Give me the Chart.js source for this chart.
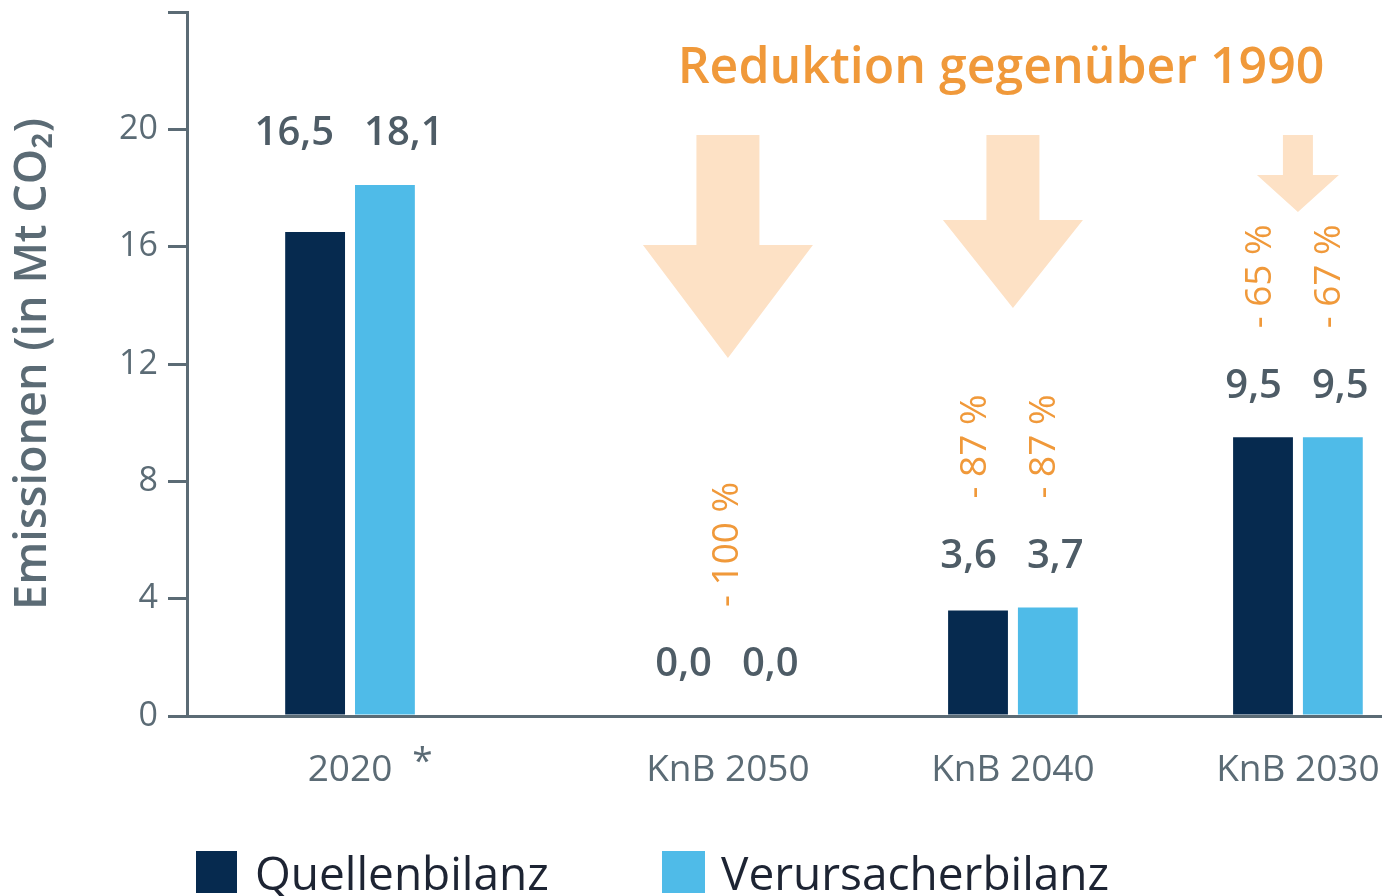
<!DOCTYPE html>
<html lang="de">
<head>
<meta charset="utf-8">
<title>Emissionen</title>
<script src="https://cdn.jsdelivr.net/npm/chart.js@4.4.1/dist/chart.umd.min.js"></script>
<style>
  html, body { margin: 0; padding: 0; background: #fff; }
  #wrap { width: 1382px; height: 896px; }
</style>
</head>
<body>
<div id="wrap"><canvas id="emissionChart"></canvas></div>
<script>
// Daten
const categories = ['2020', 'KnB 2050', 'KnB 2040', 'KnB 2030'];
const footnotes = ['*', '', '', ''];
const quellenbilanz = [16.5, 0.0, 3.6, 9.5];
const verursacherbilanz = [18.1, 0.0, 3.7, 9.5];
const reduktionQuellen = [null, -100, -87, -65];
const reduktionVerursacher = [null, -100, -87, -67];

// Farben
const darkBlue = '#062a4f';
const lightBlue = '#4fbbe8';
const orange = '#f0993a';
const arrowColor = '#fde1c5';
const axisColor = '#5b6b75';
const FONT = '"Open Sans", "Noto Sans", sans-serif';

// 2020 steht etwas weiter links (Lücke nach der ersten Gruppe)
const firstGap = 0.326;
const xPos = categories.map((c, i) => i + (i > 0 ? firstGap : 0));

// Pfeilformen (px) je Kategorie
const arrowShapes = [
    null,
    { shaftW: 63, shaftH: 110, headW: 170, headH: 113 },
    { shaftW: 53, shaftH: 85, headW: 140, headH: 88 },
    { shaftW: 30, shaftH: 40, headW: 82, headH: 37 }
];

const fmt = v => v.toFixed(1).replace('.', ',');
const fmtPct = v => '- ' + Math.abs(v) + ' %';

const annotations = {
    id: 'annotations',
    afterDatasetsDraw(chart) {
        const { ctx, scales: { x } } = chart;
        const m0 = chart.getDatasetMeta(0).data;
        const m1 = chart.getDatasetMeta(1).data;
        ctx.save();

        // Pfeile
        ctx.fillStyle = arrowColor;
        categories.forEach((c, i) => {
            const a = arrowShapes[i];
            if (!a) return;
            const cx = x.getPixelForValue(xPos[i]);
            const top = 135;
            ctx.beginPath();
            ctx.moveTo(cx - a.shaftW / 2, top);
            ctx.lineTo(cx + a.shaftW / 2, top);
            ctx.lineTo(cx + a.shaftW / 2, top + a.shaftH);
            ctx.lineTo(cx + a.headW / 2, top + a.shaftH);
            ctx.lineTo(cx, top + a.shaftH + a.headH);
            ctx.lineTo(cx - a.headW / 2, top + a.shaftH);
            ctx.lineTo(cx - a.shaftW / 2, top + a.shaftH);
            ctx.closePath();
            ctx.fill();
        });

        categories.forEach((c, i) => {
            const cx = x.getPixelForValue(xPos[i]);
            const labelY = Math.min(m0[i].y, m1[i].y) - 51;

            // Werte
            ctx.font = '600 40px ' + FONT;
            ctx.fillStyle = '#4e5c66';
            ctx.textAlign = 'center';
            ctx.textBaseline = 'middle';
            const tL = fmt(quellenbilanz[i]);
            const tR = fmt(verursacherbilanz[i]);
            const wL = ctx.measureText(tL).width;
            const wR = ctx.measureText(tR).width;
            ctx.fillText(tL, cx - (wL / 2 + 16), labelY);
            ctx.fillText(tR, cx + (wR / 2 + 14), labelY);

            // Reduktion (senkrecht)
            if (reduktionQuellen[i] === null) return;
            ctx.font = '37px ' + FONT;
            ctx.fillStyle = orange;
            ctx.textAlign = 'left';
            const bottom = labelY - 58;
            const drawPct = (txt, px) => {
                ctx.save();
                ctx.translate(px, bottom);
                ctx.rotate(-Math.PI / 2);
                ctx.fillText(txt, 0, 0);
                ctx.restore();
            };
            if (reduktionQuellen[i] === -100 && reduktionVerursacher[i] === -100) {
                drawPct(fmtPct(reduktionQuellen[i]), cx);
            } else {
                drawPct(fmtPct(reduktionQuellen[i]), m0[i].x - 3);
                drawPct(fmtPct(reduktionVerursacher[i]), m1[i].x - 3);
            }
        });

        // Fußnotenzeichen an den Achsenbeschriftungen
        ctx.font = '37px ' + FONT;
        ctx.fillStyle = axisColor;
        ctx.textAlign = 'left';
        ctx.textBaseline = 'alphabetic';
        categories.forEach((c, i) => {
            if (!footnotes[i]) return;
            const cx = x.getPixelForValue(xPos[i]);
            const w = ctx.measureText(c).width;
            ctx.fillText(footnotes[i], cx + w / 2 + 20, 773);
        });

        // Überschrift
        ctx.font = '600 50px ' + FONT;
        ctx.fillStyle = orange;
        ctx.textAlign = 'center';
        ctx.fillText('Reduktion gegenüber 1990', 1001, 83);

        // Legende
        const items = [{ x: 196, w: 41 }, { x: 662, w: 43 }];
        ctx.font = '46px ' + FONT;
        ctx.textAlign = 'left';
        chart.data.datasets.forEach((ds, k) => {
            ctx.fillStyle = ds.backgroundColor;
            ctx.fillRect(items[k].x, 851, items[k].w, 42);
            ctx.fillStyle = '#1d2433';
            ctx.fillText(ds.label, items[k].x + 59, 890);
        });

        ctx.restore();
    }
};

new Chart(document.getElementById('emissionChart').getContext('2d'), {
    type: 'bar',
    data: {
        datasets: [{
            label: 'Quellenbilanz',
            data: quellenbilanz.map((v, i) => ({ x: xPos[i], y: v })),
            backgroundColor: darkBlue,
            categoryPercentage: 0.49,
            barPercentage: 0.857
        }, {
            label: 'Verursacherbilanz',
            data: verursacherbilanz.map((v, i) => ({ x: xPos[i], y: v })),
            backgroundColor: lightBlue,
            categoryPercentage: 0.49,
            barPercentage: 0.857
        }]
    },
    options: {
        responsive: true,
        maintainAspectRatio: false,
        animation: false,
        layout: { padding: { top: 12, left: 0, right: 0, bottom: 0 } },
        plugins: {
            legend: { display: false },
            tooltip: { enabled: false }
        },
        scales: {
            x: {
                type: 'linear',
                offset: false,
                bounds: 'data',
                min: -0.572,
                max: 3.621,
                grid: { display: false },
                border: { display: true, color: axisColor, width: 3 },
                afterBuildTicks: s => { s.ticks = xPos.map(v => ({ value: v })); },
                afterFit: s => { s.height = 180; s.paddingLeft = 0; s.paddingRight = 0; },
                ticks: {
                    autoSkip: false,
                    maxRotation: 0,
                    padding: 24,
                    color: axisColor,
                    font: { family: FONT, size: 37 },
                    callback: (v, i) => categories[i]
                }
            },
            y: {
                min: 0,
                max: 24,
                afterFit: s => { s.width = 187; s.paddingTop = 0; s.paddingBottom = 0; },
                grid: {
                    drawOnChartArea: false,
                    tickLength: 19,
                    color: axisColor,
                    lineWidth: 3
                },
                border: { display: true, color: axisColor, width: 3 },
                ticks: {
                    stepSize: 4,
                    padding: 10,
                    color: axisColor,
                    font: { family: FONT, size: 34 },
                    callback: v => (v === 24 ? '' : v)
                },
                title: {
                    display: true,
                    text: 'Emissionen (in Mt CO₂)',
                    color: axisColor,
                    font: { family: FONT, size: 45, weight: '600' },
                    padding: { top: 6, bottom: 0 }
                }
            }
        }
    },
    plugins: [annotations]
});
</script>
</body>
</html>
